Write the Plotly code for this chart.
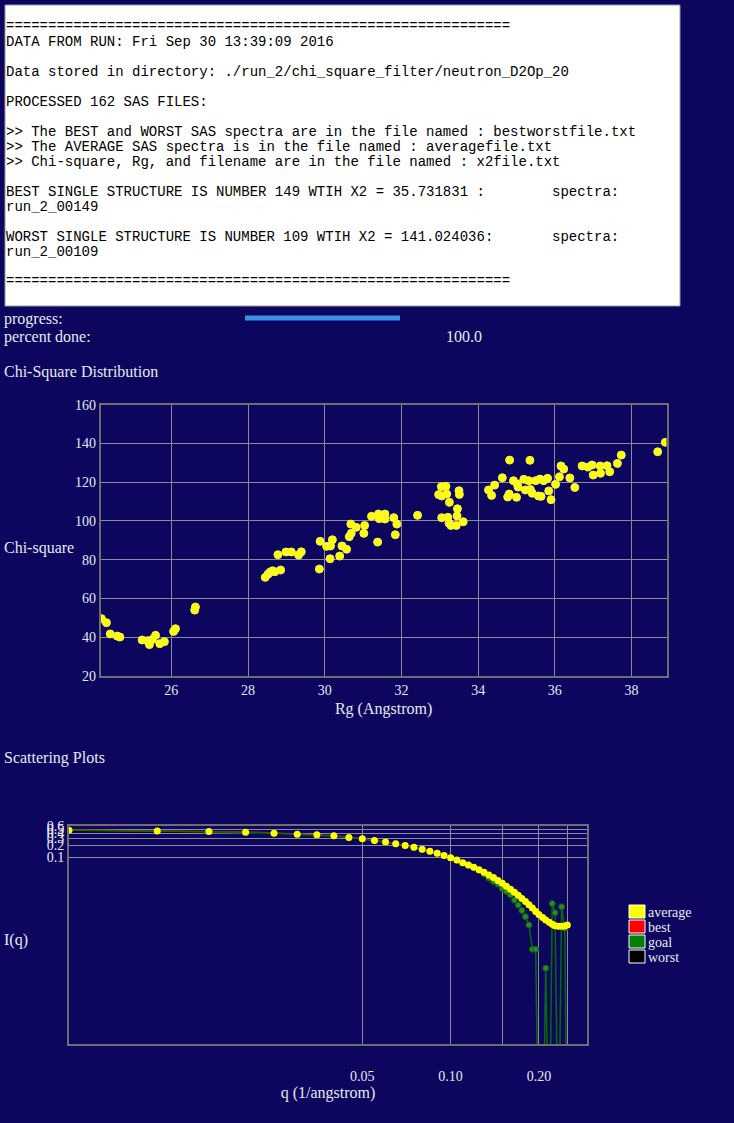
import plotly.graph_objects as go

W, H = 734, 1123
BG = "#0c065e"
FG = "#e8e8f0"
SERIF = "Liberation Serif"
MONO = "Liberation Mono"

# chi-square distribution (Rg in Angstrom, chi-square)
rg = [24.18, 24.31, 24.41, 24.59, 24.66, 25.24, 25.38, 25.43, 25.51, 25.59, 25.70, 25.82,
      26.06, 26.11, 26.61, 26.63,
      28.45, 28.52, 28.58, 28.64, 28.70, 28.78, 28.85, 28.99, 29.13, 29.32, 29.39, 29.86,
      29.88, 30.05, 30.14, 30.15, 30.20, 30.39, 30.45, 30.57, 30.64, 30.69, 30.68, 30.82,
      31.02, 31.04, 31.22, 31.38, 31.40, 31.42, 31.57, 31.57, 31.80, 31.84, 31.88, 32.42,
      32.97, 33.05, 33.04, 33.16, 33.18, 33.05, 33.21, 33.25, 33.24, 33.29, 33.43, 33.45,
      33.46, 33.50, 33.51, 33.61,
      34.27, 34.35, 34.43, 34.63, 34.77, 34.81, 34.82, 34.92, 35.00, 35.02, 35.04, 35.19,
      35.23, 35.32, 35.35, 35.36, 35.41, 35.50, 35.57, 35.61, 35.64, 35.71, 35.81, 35.84,
      35.90, 36.02, 36.12, 36.16, 36.23, 36.39, 36.52,
      36.71, 36.86, 36.97, 37.00, 37.18, 37.19, 37.36, 37.43, 37.63, 37.73, 38.68, 38.88]
chi2 = [49.6, 47.5, 41.7, 40.6, 40.1, 38.6, 38.2, 36.2, 38.9, 41.0, 36.7, 37.7,
        43.0, 44.4, 54.0, 55.6,
        70.9, 72.5, 73.7, 74.3, 73.8, 82.6, 74.7, 84.0, 84.0, 82.4, 84.1, 75.2,
        89.5, 86.9, 80.5, 87.1, 90.3, 81.9, 87.1, 85.4, 91.9, 93.6, 98.4, 96.7,
        93.6, 97.7, 102.4, 89.1, 103.6, 101.2, 103.6, 101.0, 101.7, 92.9, 98.4, 102.9,
        113.6, 112.9, 117.7, 117.9, 113.9, 101.7, 101.9, 109.6, 98.9, 97.7, 97.7, 102.6,
        106.3, 115.6, 113.7, 99.6,
        116.0, 113.2, 118.5, 122.3, 112.4, 113.9, 131.4, 120.8, 112.2, 119.1, 117.5, 121.5,
        116.0, 120.8, 131.3, 116.3, 114.3, 120.8, 112.9, 121.6, 112.7, 120.8, 122.0, 115.5,
        111.0, 118.9, 122.8, 128.4, 126.8, 122.2, 117.3,
        128.4, 127.8, 128.9, 123.7, 128.4, 124.6, 128.5, 125.4, 129.7, 134.0, 135.7, 140.6]

# scattering curves
q = [0.005, 0.01, 0.015, 0.02, 0.025, 0.03, 0.035, 0.04, 0.045, 0.05,
     0.055, 0.06, 0.065, 0.07, 0.075, 0.08, 0.085, 0.09, 0.095, 0.1,
     0.105, 0.11, 0.115, 0.12, 0.125, 0.13, 0.135, 0.14, 0.145, 0.15,
     0.155, 0.16, 0.165, 0.17, 0.175, 0.18, 0.185, 0.19, 0.195, 0.2,
     0.206, 0.211, 0.217, 0.222, 0.227, 0.233, 0.239, 0.245, 0.25]
i_average = [0.473, 0.454, 0.439, 0.422, 0.398, 0.376, 0.361, 0.341, 0.311, 0.287,
             0.262, 0.237, 0.215, 0.196, 0.175, 0.156, 0.139, 0.124, 0.110, 0.0960,
             0.0841, 0.0720, 0.0631, 0.0553, 0.0481, 0.0414, 0.0355, 0.0304, 0.0256, 0.0220,
             0.0185, 0.0156, 0.0131, 0.0110, 0.00907, 0.00763, 0.00631, 0.00522, 0.00429, 0.00361,
             0.00304, 0.00262, 0.00228, 0.00203, 0.00188, 0.00181, 0.00181, 0.00185, 0.00196]
# values <= 0 in the goal data are drawn at a floor far below the axis range
i_goal = [0.470, 0.452, 0.437, 0.420, 0.396, 0.374, 0.359, 0.339, 0.309, 0.285,
          0.260, 0.235, 0.213, 0.194, 0.173, 0.154, 0.137, 0.122, 0.108, 0.0945,
          0.0825, 0.0705, 0.0615, 0.0535, 0.0462, 0.0370, 0.0293, 0.0244, 0.0208, 0.0161,
          0.0136, 0.0112, 0.00827, 0.0062, 0.00455, 0.00316, 0.00196, 0.000481, 0.000481, 1e-9,
          1e-9, 0.000161, 1e-9, 0.0068, 0.00398, 1e-9, 0.00562, 0.00161, 1e-9]
q_best = q[:20]
i_best = [0.478, 0.459, 0.443, 0.425, 0.401, 0.379, 0.363, 0.342, 0.312, 0.288,
          0.262, 0.237, 0.214, 0.195, 0.174, 0.155, 0.138, 0.123, 0.109, 0.0950]
i_worst = [0.452, 0.437, 0.425, 0.410, 0.390, 0.370, 0.356, 0.338, 0.310, 0.286,
           0.261, 0.236, 0.214, 0.195, 0.174, 0.155, 0.138, 0.123, 0.109, 0.0950]
legend_names = ["average", "best", "goal", "worst"]
legend_colors = ["#ffff00", "#ff0000", "#008000", "#000000"]

report_lines = [
    ("=" * 60, 26),
    ("DATA FROM RUN: Fri Sep 30 13:39:09 2016", 42),
    ("Data stored in directory: ./run_2/chi_square_filter/neutron_D2Op_20", 72),
    ("PROCESSED 162 SAS FILES:", 102),
    (">> The BEST and WORST SAS spectra are in the file named : bestworstfile.txt", 132),
    (">> The AVERAGE SAS spectra is in the file named : averagefile.txt", 147),
    (">> Chi-square, Rg, and filename are in the file named : x2file.txt", 162),
    ("BEST SINGLE STRUCTURE IS NUMBER 149 WTIH X2 = 35.731831 :", 192),
    ("run_2_00149", 207),
    ("WORST SINGLE STRUCTURE IS NUMBER 109 WTIH X2 = 141.024036:", 237),
    ("run_2_00109", 252),
    ("=" * 60, 281),
]


def fx(x):
    return x / W


def fy(y):
    return 1 - y / H


fig = go.Figure()

fig.add_trace(go.Scatter(x=rg, y=chi2, mode="markers", showlegend=False,
                         marker=dict(color="#ffff00", size=8,
                                     line=dict(color="#f0f060", width=1)),
                         xaxis="x", yaxis="y"))

fig.add_trace(go.Scatter(x=q_best, y=i_worst, mode="lines", showlegend=False,
                         line=dict(color="#000000", width=1.5), xaxis="x2", yaxis="y2"))
fig.add_trace(go.Scatter(x=q_best, y=i_best, mode="lines", showlegend=False,
                         line=dict(color="#ff0000", width=1.5), xaxis="x2", yaxis="y2"))
fig.add_trace(go.Scatter(x=q, y=i_goal, mode="lines+markers", showlegend=False,
                         line=dict(color="#0a6a0a", width=1.5),
                         marker=dict(color="#2a8a2a", size=6, line=dict(color="#0a5a0a", width=1)),
                         xaxis="x2", yaxis="y2"))
fig.add_trace(go.Scatter(x=q, y=i_average, mode="markers", showlegend=False,
                         marker=dict(color="#ffff00", size=7),
                         xaxis="x2", yaxis="y2"))

axis_common = dict(showgrid=True, gridcolor="#8a8a9a", gridwidth=1, showline=True,
                   linecolor="#6e6e6e", linewidth=2, mirror=True, zeroline=False,
                   automargin=False,
                   tickfont=dict(family=SERIF, size=14, color=FG), ticks="")

fig.update_layout(
    width=W, height=H, margin=dict(l=0, r=0, t=0, b=0, autoexpand=False),
    paper_bgcolor=BG, plot_bgcolor=BG, showlegend=False,
    font=dict(family=SERIF, color=FG, size=16),
    xaxis=dict(domain=[fx(100.7), fx(666.5)], range=[24.16, 38.91], dtick=2, tick0=0,
               title=dict(text="Rg (Angstrom)", font=dict(size=16, color=FG), standoff=6),
               anchor="y", **axis_common),
    yaxis=dict(domain=[fy(676), fy(404.7)], range=[20, 160], dtick=20,
               anchor="x", **axis_common),
    xaxis2=dict(domain=[fx(69), fx(587)], type="log", range=[-2.301, -0.535],
                tickvals=[0.05, 0.1, 0.15, 0.2, 0.25],
                ticktext=["0.05", "0.10", "", "0.20", ""], ticklabelstandoff=18,
                title=dict(text="q (1/angstrom)", font=dict(size=16, color=FG), standoff=4),
                anchor="y2", **axis_common),
    yaxis2=dict(domain=[fy(1044), fy(826)], type="log", range=[-5.7, -0.22],
                tickvals=[0.1, 0.2, 0.3, 0.4, 0.5, 0.6],
                ticktext=["0.1", "0.2", "0.3", "0.4", "0.5", "0.6"],
                anchor="x2", **axis_common),
)

# legend drawn as swatches + labels
for k, (name, col) in enumerate(zip(legend_names, legend_colors)):
    y0 = 905 + 15 * k
    fig.add_shape(type="rect", xref="paper", yref="paper",
                  x0=fx(629), x1=fx(645), y0=fy(y0 + 13), y1=fy(y0),
                  fillcolor=col, line=dict(color="#ffffff", width=1))
    fig.add_annotation(text=name, x=fx(646), y=fy(y0 + 7), xref="paper", yref="paper",
                       xanchor="left", yanchor="middle", showarrow=False,
                       font=dict(family=SERIF, size=14, color=FG))

# report box
fig.add_shape(type="rect", xref="paper", yref="paper",
              x0=fx(5), x1=fx(680), y0=fy(306), y1=fy(5),
              fillcolor="#ffffff", line=dict(color="#9a9a9a", width=1))
for text, y in report_lines:
    fig.add_annotation(text=text, x=fx(4), y=fy(y), xref="paper", yref="paper",
                       xanchor="left", yanchor="middle", showarrow=False,
                       font=dict(family=MONO, size=14, color="#000000"))
for y in (192, 237):
    fig.add_annotation(text="spectra:", x=fx(550), y=fy(y), xref="paper", yref="paper",
                       xanchor="left", yanchor="middle", showarrow=False,
                       font=dict(family=MONO, size=14, color="#000000"))

# progress section
fig.add_shape(type="line", xref="paper", yref="paper",
              x0=fx(245), x1=fx(400), y0=fy(318), y1=fy(318),
              line=dict(color="#3a8ee6", width=5))
labels = [("progress:", 2, 319), ("percent done:", 2, 337), ("100.0", 444, 337),
          ("Chi-Square Distribution", 2, 372), ("Chi-square", 2, 548),
          ("Scattering Plots", 2, 758), ("I(q)", 2, 940)]
for text, x, y in labels:
    fig.add_annotation(text=text, x=fx(x), y=fy(y), xref="paper", yref="paper",
                       xanchor="left", yanchor="middle", showarrow=False,
                       font=dict(family=SERIF, size=16, color=FG))

fig.write_html("out.html", config={"displayModeBar": False},
               post_script="document.body.style.margin='0';")
